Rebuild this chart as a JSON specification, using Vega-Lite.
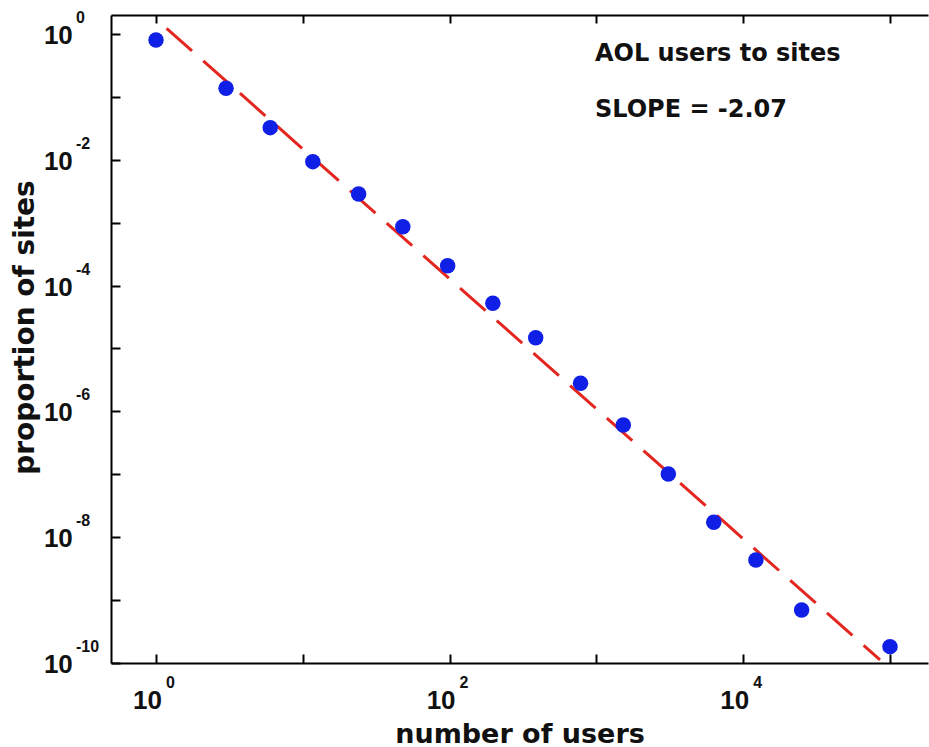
{
  "$schema": "https://vega.github.io/schema/vega-lite/v6.json",
  "width": 817,
  "height": 648,
  "autosize": {"type": "none"},
  "padding": {"left": 111, "top": 15, "right": 1, "bottom": 84},
  "background": "white",
  "config": {"view": {"stroke": null}},
  "datasets": {
    "sites": [
      {"users": 1, "proportion": 0.80},
      {"users": 3, "proportion": 0.137},
      {"users": 6, "proportion": 0.0324},
      {"users": 11.7, "proportion": 0.00933},
      {"users": 24, "proportion": 0.00286},
      {"users": 48, "proportion": 0.000864},
      {"users": 97, "proportion": 0.000207},
      {"users": 197, "proportion": 0.0000523},
      {"users": 386, "proportion": 0.0000148},
      {"users": 780, "proportion": 0.0000028},
      {"users": 1525, "proportion": 6.08e-7},
      {"users": 3090, "proportion": 1.01e-7},
      {"users": 6300, "proportion": 1.73e-8},
      {"users": 12200, "proportion": 4.34e-9},
      {"users": 25000, "proportion": 6.96e-10},
      {"users": 100000, "proportion": 1.82e-10}
    ],
    "fit": [
      {"users": 1.18, "proportion": 1.23},
      {"users": 85500, "proportion": 1.12e-10}
    ],
    "yExponents": [
      {"v": 1, "e": "0"},
      {"v": 0.01, "e": "-2"},
      {"v": 0.0001, "e": "-4"},
      {"v": 0.000001, "e": "-6"},
      {"v": 1e-8, "e": "-8"},
      {"v": 1e-10, "e": "-10"}
    ],
    "xExponents": [
      {"v": 1, "e": "0"},
      {"v": 100, "e": "2"},
      {"v": 10000, "e": "4"}
    ],
    "notes": [
      {"users": 977, "proportion": 0.376, "text": "AOL users to sites"},
      {"users": 977, "proportion": 0.0484, "text": "SLOPE = -2.07"}
    ]
  },
  "resolve": {"axis": {"x": "independent"}},
  "layer": [
    {
      "data": {"name": "fit"},
      "mark": {"type": "line", "color": "#e3261f", "strokeWidth": 3, "strokeDash": [34, 15]},
      "encoding": {
        "x": {
          "field": "users", "type": "quantitative",
          "scale": {"type": "log", "domain": [0.4937, 181500], "nice": false},
          "axis": {
            "orient": "top", "values": [1, 10, 100, 1000, 10000, 100000],
            "labels": false, "title": null, "grid": false,
            "tickSize": -8, "tickWidth": 2, "tickColor": "black",
            "domainColor": "black", "domainWidth": 2
          }
        },
        "y": {
          "field": "proportion", "type": "quantitative",
          "scale": {"type": "log", "domain": [1e-10, 2], "nice": false},
          "axis": {
            "orient": "left",
            "values": [1e-10, 1e-9, 1e-8, 1e-7, 1e-6, 1e-5, 1e-4, 1e-3, 1e-2, 1e-1, 1],
            "grid": false,
            "tickSize": -9, "tickWidth": 2, "tickColor": "black",
            "domainColor": "black", "domainWidth": 2,
            "labelExpr": "abs(round(log(datum.value)/LN10)) % 2 == 0 ? '10' : ''",
            "labelFont": "Liberation Sans", "labelFontWeight": "bold", "labelFontSize": 26,
            "labelColor": "#111", "labelAlign": "right", "labelBaseline": "middle",
            "labelOffset": 1.5, "labelPadding": 47.7,
            "labelOverlap": false, "labelFlush": false, "labelBound": false,
            "title": "proportion of sites",
            "titleFont": "DejaVu Sans", "titleFontWeight": "bold", "titleFontSize": 28,
            "titleColor": "#111", "titleAngle": 270, "titleAlign": "center",
            "titleBaseline": "alphabetic", "titleX": -78, "titleY": 312
          }
        }
      }
    },
    {
      "data": {"name": "sites"},
      "mark": {"type": "circle", "size": 240, "color": "#0f1fe6", "opacity": 1},
      "encoding": {
        "x": {
          "field": "users", "type": "quantitative",
          "scale": {"type": "log", "domain": [0.4937, 181500], "nice": false},
          "axis": {
            "orient": "bottom", "values": [1, 10, 100, 1000, 10000, 100000],
            "grid": false,
            "tickSize": -9, "tickWidth": 2, "tickColor": "black",
            "domainColor": "black", "domainWidth": 2,
            "labelExpr": "round(log(datum.value)/LN10) % 2 == 0 ? '10' : ''",
            "labelFont": "Liberation Sans", "labelFontWeight": "bold", "labelFontSize": 26,
            "labelColor": "#111", "labelAlign": "center", "labelBaseline": "middle",
            "labelOffset": -9, "labelPadding": 46.5,
            "labelOverlap": false, "labelFlush": false, "labelBound": false,
            "title": "number of users",
            "titleFont": "DejaVu Sans", "titleFontWeight": "bold", "titleFontSize": 27,
            "titleColor": "#111", "titleBaseline": "alphabetic", "titleY": 79
          }
        },
        "y": {
          "field": "proportion", "type": "quantitative",
          "scale": {"type": "log", "domain": [1e-10, 2], "nice": false},
          "axis": {
            "orient": "left",
            "values": [1e-10, 1e-9, 1e-8, 1e-7, 1e-6, 1e-5, 1e-4, 1e-3, 1e-2, 1e-1, 1],
            "grid": false,
            "tickSize": -9, "tickWidth": 2, "tickColor": "black",
            "domainColor": "black", "domainWidth": 2,
            "labelExpr": "abs(round(log(datum.value)/LN10)) % 2 == 0 ? '10' : ''",
            "labelFont": "Liberation Sans", "labelFontWeight": "bold", "labelFontSize": 26,
            "labelColor": "#111", "labelAlign": "right", "labelBaseline": "middle",
            "labelOffset": 1.5, "labelPadding": 47.7,
            "labelOverlap": false, "labelFlush": false, "labelBound": false,
            "title": "proportion of sites",
            "titleFont": "DejaVu Sans", "titleFontWeight": "bold", "titleFontSize": 28,
            "titleColor": "#111", "titleAngle": 270, "titleAlign": "center",
            "titleBaseline": "alphabetic", "titleX": -78, "titleY": 312
          }
        }
      }
    },
    {
      "data": {"name": "yExponents"},
      "mark": {
        "type": "text", "align": "left", "baseline": "middle", "dx": -35, "dy": -16,
        "font": "Liberation Sans Narrow, Liberation Sans", "fontSize": 16, "fontWeight": "bold", "color": "#111"
      },
      "encoding": {
        "x": {"datum": 0.4937, "type": "quantitative",
              "scale": {"type": "log", "domain": [0.4937, 181500], "nice": false}, "axis": null},
        "y": {
          "field": "v", "type": "quantitative",
          "scale": {"type": "log", "domain": [1e-10, 2], "nice": false},
          "axis": {
            "orient": "left",
            "values": [1e-10, 1e-9, 1e-8, 1e-7, 1e-6, 1e-5, 1e-4, 1e-3, 1e-2, 1e-1, 1],
            "grid": false,
            "tickSize": -9, "tickWidth": 2, "tickColor": "black",
            "domainColor": "black", "domainWidth": 2,
            "labelExpr": "abs(round(log(datum.value)/LN10)) % 2 == 0 ? '10' : ''",
            "labelFont": "Liberation Sans", "labelFontWeight": "bold", "labelFontSize": 26,
            "labelColor": "#111", "labelAlign": "right", "labelBaseline": "middle",
            "labelOffset": 1.5, "labelPadding": 47.7,
            "labelOverlap": false, "labelFlush": false, "labelBound": false,
            "title": "proportion of sites",
            "titleFont": "DejaVu Sans", "titleFontWeight": "bold", "titleFontSize": 28,
            "titleColor": "#111", "titleAngle": 270, "titleAlign": "center",
            "titleBaseline": "alphabetic", "titleX": -78, "titleY": 312
          }
        },
        "text": {"field": "e"}
      }
    },
    {
      "data": {"name": "xExponents"},
      "mark": {
        "type": "text", "align": "left", "baseline": "middle", "dx": 10, "dy": 20,
        "font": "Liberation Sans Narrow, Liberation Sans", "fontSize": 16, "fontWeight": "bold", "color": "#111"
      },
      "encoding": {
        "x": {"field": "v", "type": "quantitative",
              "scale": {"type": "log", "domain": [0.4937, 181500], "nice": false}, "axis": null},
        "y": {
          "datum": 1e-10, "type": "quantitative",
          "scale": {"type": "log", "domain": [1e-10, 2], "nice": false},
          "axis": {
            "orient": "left",
            "values": [1e-10, 1e-9, 1e-8, 1e-7, 1e-6, 1e-5, 1e-4, 1e-3, 1e-2, 1e-1, 1],
            "grid": false,
            "tickSize": -9, "tickWidth": 2, "tickColor": "black",
            "domainColor": "black", "domainWidth": 2,
            "labelExpr": "abs(round(log(datum.value)/LN10)) % 2 == 0 ? '10' : ''",
            "labelFont": "Liberation Sans", "labelFontWeight": "bold", "labelFontSize": 26,
            "labelColor": "#111", "labelAlign": "right", "labelBaseline": "middle",
            "labelOffset": 1.5, "labelPadding": 47.7,
            "labelOverlap": false, "labelFlush": false, "labelBound": false,
            "title": "proportion of sites",
            "titleFont": "DejaVu Sans", "titleFontWeight": "bold", "titleFontSize": 28,
            "titleColor": "#111", "titleAngle": 270, "titleAlign": "center",
            "titleBaseline": "alphabetic", "titleX": -78, "titleY": 312
          }
        },
        "text": {"field": "e"}
      }
    },
    {
      "data": {"name": "notes"},
      "mark": {
        "type": "text", "align": "left", "baseline": "alphabetic",
        "font": "DejaVu Sans", "fontSize": 24, "fontWeight": "bold", "color": "#111"
      },
      "encoding": {
        "x": {"field": "users", "type": "quantitative",
              "scale": {"type": "log", "domain": [0.4937, 181500], "nice": false}, "axis": null},
        "y": {
          "field": "proportion", "type": "quantitative",
          "scale": {"type": "log", "domain": [1e-10, 2], "nice": false},
          "axis": {
            "orient": "left",
            "values": [1e-10, 1e-9, 1e-8, 1e-7, 1e-6, 1e-5, 1e-4, 1e-3, 1e-2, 1e-1, 1],
            "grid": false,
            "tickSize": -9, "tickWidth": 2, "tickColor": "black",
            "domainColor": "black", "domainWidth": 2,
            "labelExpr": "abs(round(log(datum.value)/LN10)) % 2 == 0 ? '10' : ''",
            "labelFont": "Liberation Sans", "labelFontWeight": "bold", "labelFontSize": 26,
            "labelColor": "#111", "labelAlign": "right", "labelBaseline": "middle",
            "labelOffset": 1.5, "labelPadding": 47.7,
            "labelOverlap": false, "labelFlush": false, "labelBound": false,
            "title": "proportion of sites",
            "titleFont": "DejaVu Sans", "titleFontWeight": "bold", "titleFontSize": 28,
            "titleColor": "#111", "titleAngle": 270, "titleAlign": "center",
            "titleBaseline": "alphabetic", "titleX": -78, "titleY": 312
          }
        },
        "text": {"field": "text"}
      }
    }
  ]
}
